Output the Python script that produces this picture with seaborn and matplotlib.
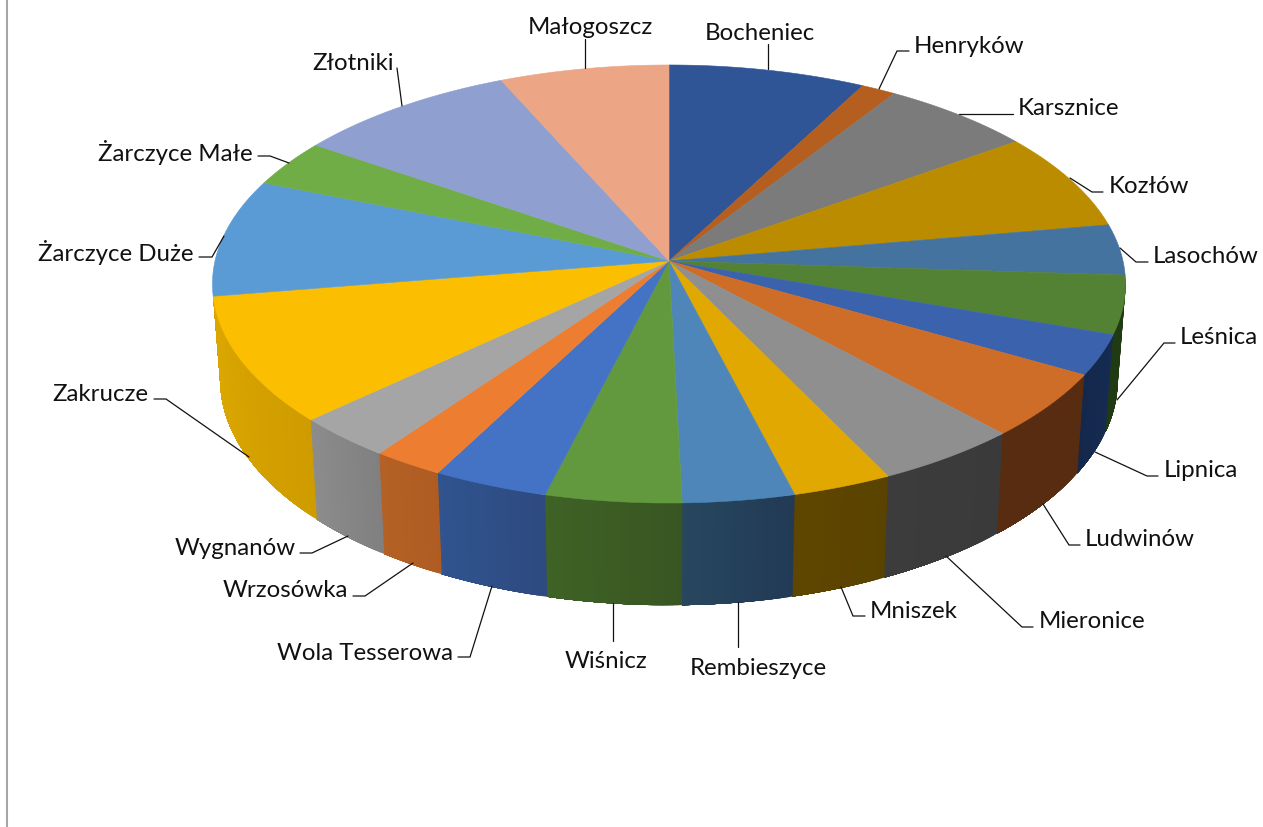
import numpy as np
import matplotlib
matplotlib.use("Agg")
import matplotlib.pyplot as plt
from matplotlib.collections import PolyCollection
from matplotlib.colors import to_rgb
import seaborn as sns

# --- data -------------------------------------------------------------
names = ["Bocheniec", "Henryków", "Karsznice", "Kozłów", "Lasochów", "Leśnica",
         "Lipnica", "Ludwinów", "Mieronice", "Mniszek", "Rembieszyce", "Wiśnicz",
         "Wola Tesserowa", "Wrzosówka", "Wygnanów", "Zakrucze", "Żarczyce Duże",
         "Żarczyce Małe", "Złotniki", "Małogoszcz"]
values = [27.8, 4.9, 21.5, 26.0, 13.5, 15.5, 10.7, 17.4, 16.8, 11.5, 12.9, 15.7,
          13.3, 8.2, 11.4, 33.7, 31.2, 12.5, 31.6, 23.9]

# --- styles -----------------------------------------------------------
top_colors = ["#2F5597", "#B45F20", "#7B7B7B", "#BC8C00", "#44739F", "#548235",
              "#3A62AD", "#CE6D27", "#8F8F8F", "#E0A800", "#4E86BA", "#62993E",
              "#4472C4", "#ED7D31", "#A5A5A5", "#FBBE00", "#5B9BD5", "#70AD47",
              "#8E9FD0", "#ECA585"]
wall_start = ["#2F5597", "#B45F20", "#7B7B7B", "#BC8C00", "#44739F", "#203A14",
              "#14284C", "#572C10", "#3C3C3C", "#5F4600", "#27475F", "#3F6225",
              "#30548F", "#B56126", "#8C8C8C", "#DDA800", "#5B9BD5", "#70AD47",
              "#8E9FD0", "#ECA585"]
wall_end = ["#2F5597", "#B45F20", "#7B7B7B", "#BC8C00", "#44739F", "#203A14",
            "#162B52", "#572C10", "#3A3A3A", "#5A4300", "#223A55", "#385622",
            "#2E4A80", "#AF5C22", "#808080", "#CF9C00", "#5B9BD5", "#70AD47",
            "#8E9FD0", "#ECA585"]

# label anchor (x, y, ha) and leader path, in figure pixels
label_layout = {
    "Bocheniec": (760, 32, "center", [(768, 45), (768, 70)]),
    "Henryków": (914, 45, "left", [(909, 52), (897, 52), (879, 90)]),
    "Karsznice": (1018, 107, "left", [(1013, 115), (959, 115)]),
    "Kozłów": (1109, 185, "left", [(1103, 193), (1092, 193), (1070, 179)]),
    "Lasochów": (1153, 255, "left", [(1148, 263), (1136, 263), (1120, 249)]),
    "Leśnica": (1180, 336, "left", [(1175, 344), (1164, 344), (1117, 401)]),
    "Lipnica": (1164, 469, "left", [(1158, 477), (1147, 477), (1095, 453)]),
    "Ludwinów": (1085, 538, "left", [(1080, 546), (1069, 546), (1043, 505)]),
    "Mieronice": (1039, 620, "left", [(1033, 628), (1022, 628), (946, 557)]),
    "Mniszek": (870, 610, "left", [(865, 617), (853, 617), (841, 588)]),
    "Rembieszyce": (758, 667, "center", [(738, 648), (738, 603)]),
    "Wiśnicz": (606, 660, "center", [(613, 642), (613, 604)]),
    "Wola Tesserowa": (453, 652, "right", [(458, 658), (470, 658), (492, 587)]),
    "Wrzosówka": (348, 589, "right", [(353, 597), (365, 597), (413, 564)]),
    "Wygnanów": (296, 547, "right", [(300, 554), (312, 554), (348, 537)]),
    "Zakrucze": (148, 393, "right", [(154, 400), (166, 400), (249, 458)]),
    "Żarczyce Duże": (194, 251, "right", [(199, 258), (212, 258), (224, 237)]),
    "Żarczyce Małe": (253, 151, "right", [(258, 157), (270, 157), (289, 164)]),
    "Złotniki": (394, 62, "right", [(397, 69), (402, 107)]),
    "Małogoszcz": (590, 26, "center", [(585, 40), (585, 69)]),
}

# pie geometry (perspective projection of the disc)
CX, CY = 669.0, 262.0
RX, RY = 454.0, 216.6
PERSP = 0.105
WALL_SX, WALL_SY, WALL_DY = 0.983, 1.03, 95.0
WALL_FROM, WALL_TO = 94.0, 260.8
TEXT_DY = 1.5

sns.set_theme(style="white")
plt.rcParams["font.family"] = ["Lato", "DejaVu Sans"]


def top_xy(theta):
    """theta: clockwise radians from 12 o'clock, on the unit disc."""
    u, v = np.sin(theta), np.cos(theta)
    w = 1 + PERSP * v
    return CX + RX * u / w, CY - RY * v / w


def wall_xy(theta):
    x, y = top_xy(theta)
    return CX + WALL_SX * (x - CX), CY + WALL_DY + WALL_SY * (y - CY)


fig = plt.figure(figsize=(12.63, 8.28), dpi=100, facecolor="white")
ax = fig.add_axes([0, 0, 1, 1])
ax.set_xlim(0, 1263)
ax.set_ylim(828, 0)
ax.axis("off")

ax.plot([6.8, 6.8], [0, 828], color="#A6A6A6", lw=1.5, solid_capstyle="butt", zorder=1)

edges = np.radians(np.cumsum([0] + values) * 360.0 / np.sum(values))

# side wall: overlapping quads give a seamless left-to-right gradient per slice
wall_polys, wall_cols = [], []
for i in range(len(values)):
    a0, a1 = edges[i], edges[i + 1]
    lo, hi = max(a0, np.radians(WALL_FROM)), min(a1, np.radians(WALL_TO))
    if hi <= lo:
        continue
    n = max(3, int(np.degrees(hi - lo) * 2))
    grid = np.linspace(lo, hi, n + 1)
    s, e = np.array(to_rgb(wall_start[i])), np.array(to_rgb(wall_end[i]))
    for j in range(n):
        # run each strip from its start to the end of the slice; later strips paint over
        tt = grid[j:]
        xt, yt = top_xy(tt)
        xb, yb = wall_xy(tt[::-1])
        wall_polys.append(np.column_stack([np.r_[xt, xb], np.r_[yt, yb]]))
        f = 1 - (j + 0.5) / n  # walls run right-to-left with increasing angle
        wall_cols.append(tuple(s + (e - s) * f))
ax.add_collection(PolyCollection(wall_polys, facecolors=wall_cols, edgecolors="none",
                                 zorder=2))

# top face
top_polys = []
for i in range(len(values)):
    grid = np.linspace(edges[i], edges[i + 1], 80)
    x, y = top_xy(grid)
    top_polys.append(np.column_stack([np.r_[CX, x], np.r_[CY, y]]))
ax.add_collection(PolyCollection(top_polys, facecolors=top_colors, edgecolors=top_colors,
                                 linewidths=0.4, zorder=3))

# labels and leader lines
for name in names:
    x, y, ha, path = label_layout[name]
    ax.text(x, y + TEXT_DY, name, ha=ha, va="center", fontsize=17.3, color="#111111", zorder=5)
    px, py = zip(*path)
    ax.plot(px, py, color="#111111", lw=0.9, zorder=4, solid_joinstyle="miter")

fig.savefig("out.png", dpi=100)
